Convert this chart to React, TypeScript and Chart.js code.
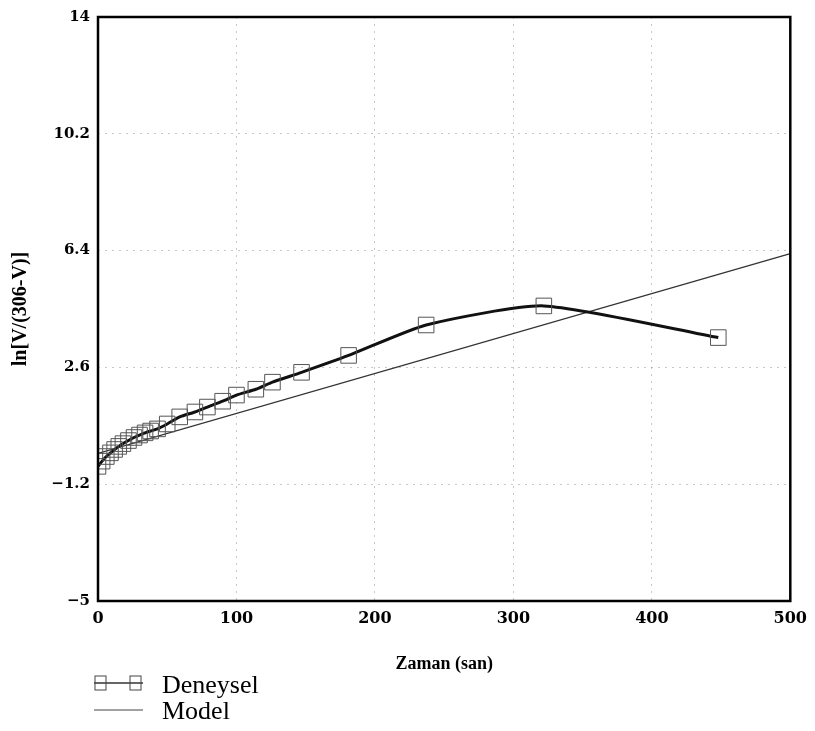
import { useEffect, useRef } from "react";
import { Chart, registerables } from "chart.js";

Chart.register(...registerables);

// Experimental data (Deneysel)
const deneyselTime = [0, 3, 6, 9, 12, 15, 18, 22, 26, 30, 34, 38, 43, 50, 59, 70, 79, 90, 100, 114, 126, 147, 181, 237, 322, 448];
const deneyselValue = [-0.62, -0.45, -0.3, -0.18, -0.07, 0.03, 0.12, 0.22, 0.32, 0.4, 0.47, 0.53, 0.6, 0.76, 0.99, 1.15, 1.31, 1.5, 1.7, 1.89, 2.12, 2.44, 2.99, 3.98, 4.6, 3.57];

// Model line
const modelTime = [0, 500];
const modelValue = [-0.2, 6.3];

// Axis ticks
const xTicks = [0, 100, 200, 300, 400, 500];
const yTicks = [-5, -1.2, 2.6, 6.4, 10.2, 14];

const labels = ["Deneysel", "Model"];

const framePlugin = {
  id: "frameLegend",
  afterDraw(chart: any) {
    const { ctx, chartArea } = chart;
    const { left, top, right, bottom } = chartArea;
    ctx.save();
    ctx.strokeStyle = "#000";
    ctx.lineWidth = 2.5;
    ctx.strokeRect(left, top, right - left, bottom - top);

    // legend
    const lx = left - 4;
    const y1 = bottom + 82;
    const y2 = bottom + 109;
    ctx.strokeStyle = "#333";
    ctx.lineWidth = 1.5;
    ctx.beginPath();
    ctx.moveTo(lx, y1);
    ctx.lineTo(lx + 49, y1);
    ctx.stroke();
    ctx.lineWidth = 1;
    ctx.strokeStyle = "#444";
    ctx.strokeRect(lx + 1, y1 - 7, 11, 14);
    ctx.strokeRect(lx + 36, y1 - 7, 11, 14);
    ctx.strokeStyle = "#444";
    ctx.lineWidth = 1;
    ctx.beginPath();
    ctx.moveTo(lx, y2);
    ctx.lineTo(lx + 49, y2);
    ctx.stroke();

    ctx.fillStyle = "#000";
    ctx.font = "26px 'Liberation Serif', serif";
    ctx.textBaseline = "middle";
    ctx.textAlign = "left";
    ctx.fillText(chart.data.datasets[0].label, lx + 68, y1 + 3);
    ctx.fillText(chart.data.datasets[1].label, lx + 68, y2 + 2);
    ctx.restore();
  },
};

export default function App() {
  const ref = useRef<HTMLCanvasElement | null>(null);

  useEffect(() => {
    if (!ref.current) return;
    const chart = new Chart(ref.current, {
      type: "line",
      data: {
        datasets: [
          {
            label: labels[0],
            data: deneyselTime.map((t, i) => ({ x: t, y: deneyselValue[i] })),
            borderColor: "#111",
            borderWidth: 3,
            pointStyle: "rect",
            pointRadius: 11,
            pointBorderWidth: 1,
            pointBorderColor: "#555",
            pointBackgroundColor: "rgba(0,0,0,0)",
            tension: 0.2,
            fill: false,
          },
          {
            label: labels[1],
            data: modelTime.map((t, i) => ({ x: t, y: modelValue[i] })),
            borderColor: "#333",
            borderWidth: 1.2,
            pointRadius: 0,
            fill: false,
          },
        ],
      },
      options: {
        responsive: false,
        animation: false,
        layout: { padding: { top: 11, right: 23, left: 0, bottom: 0 } },
        plugins: {
          legend: { display: false },
          tooltip: { enabled: false },
        },
        scales: {
          x: {
            type: "linear",
            min: 0,
            max: 500,
            afterBuildTicks: (s: any) => {
              s.ticks = xTicks.map((v) => ({ value: v }));
            },
            afterFit: (s: any) => {
              s.height = 130;
            },
            grid: { color: "rgba(0,0,0,0.22)", drawTicks: false, lineWidth: 1 },
            border: { display: false, dash: [2, 5] },
            ticks: {
              padding: 8,
              color: "#000",
              font: { family: "'DejaVu Serif', serif", weight: "bold", size: 16 },
              maxRotation: 0,
            },
            title: {
              display: true,
              text: "Zaman (san)",
              color: "#000",
              font: { family: "'Liberation Serif', serif", weight: "bold", size: 18 },
              padding: { top: 0, bottom: 56 },
            },
          },
          y: {
            min: -5,
            max: 14,
            afterBuildTicks: (s: any) => {
              s.ticks = yTicks.map((v) => ({ value: v }));
            },
            afterFit: (s: any) => {
              s.width = 98;
            },
            grid: { color: "rgba(0,0,0,0.22)", drawTicks: false, lineWidth: 1 },
            border: { display: false, dash: [2, 5] },
            ticks: {
              padding: 8,
              color: "#000",
              font: { family: "'DejaVu Serif', serif", weight: "bold", size: 15 },
              callback: (v: any) => {
                const n = Math.round(Number(v) * 10) / 10;
                return n < 0 ? "\u2212" + String(-n) : String(n);
              },
            },
            title: {
              display: true,
              text: "ln[V/(306-V)]",
              color: "#000",
              font: { family: "'Liberation Serif', serif", weight: "bold", size: 20 },
              padding: { top: 9, bottom: 0 },
            },
          },
        },
      },
      plugins: [framePlugin],
    });
    return () => chart.destroy();
  }, []);

  return (
    <div style={{ position: "absolute", left: 0, top: 0, width: 815, height: 731, background: "#fff" }}>
      <canvas ref={ref} width={815} height={731} />
    </div>
  );
}
